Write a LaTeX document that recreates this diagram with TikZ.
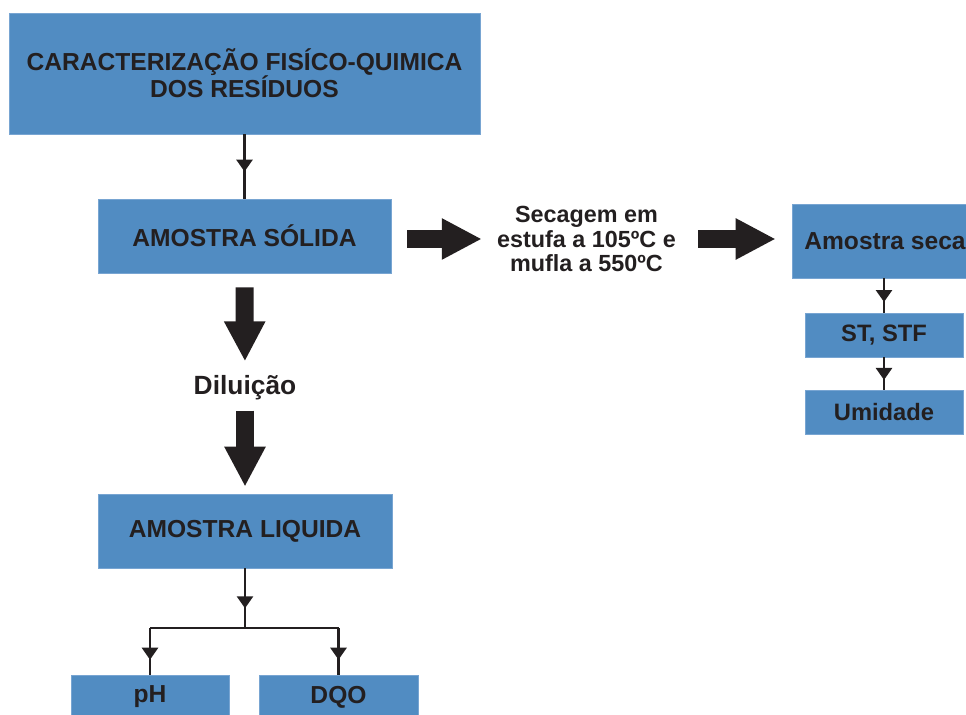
\documentclass[tikz,border=0pt]{standalone}
\usepackage{fontspec}
\setmainfont{Liberation Sans}
\usepackage{xcolor}
\usetikzlibrary{arrows.meta}
\usetikzlibrary{decorations.markings}
\definecolor{custom-blue}{RGB}{81, 140, 194}
\definecolor{custom-edge}{RGB}{120, 165, 210}
\definecolor{custom-dark}{RGB}{35, 31, 32}

\begin{document}
\begin{tikzpicture}[x=0.02cm, y=-0.02cm,
    box/.style={fill=custom-blue, draw=custom-edge, line width=0.4pt, inner sep=0pt,
        align=center, text=custom-dark, font=\bfseries\fontsize{14}{15.5}\selectfont},
    plain/.style={inner sep=0pt, align=center, text=custom-dark},
    thin/.style={draw=custom-dark, line width=1.5pt},
    midarrow/.style={thin, postaction={decorate}, decoration={markings,
        mark=at position #1 with {\arrow[custom-dark]{Triangle[width=0.32cm, length=0.24cm]}}}},
    bigarrow/.style={draw=custom-dark, line width=0.36cm,
        -{Triangle[width=0.77cm, length=0.8cm]}}]
    \useasboundingbox (0,0) rectangle (966,715);
    \node[box, minimum width=9.42cm, minimum height=2.42cm] (carac) at (244.5,73.5)
        {CARACTERIZAÇÃO FISÍCO-QUIMICA\\DOS RESÍDUOS};
    \node[box, minimum width=5.86cm, minimum height=1.48cm] (solida) at (244.5,236) {AMOSTRA SÓLIDA};
    \node[plain, font=\bfseries\fontsize{13.3}{14.2}\selectfont] (secagem) at (586.5,239)
        {Secagem em\\estufa a 105ºC e\\mufla a 550ºC};
    \node[box, minimum width=3.72cm, minimum height=1.48cm] (seca) at (885,241) {Amostra seca};
    \node[box, font=\bfseries\fontsize{13.5}{15}\selectfont, minimum width=3.16cm, minimum height=0.88cm] (stf) at (884,335) {ST, STF};
    \node[box, font=\bfseries\fontsize{13.5}{15}\selectfont, minimum width=3.16cm, minimum height=0.88cm] (umidade) at (884,412) {Umidade};
    \node[plain, font=\bfseries\fontsize{15}{16}\selectfont] (diluicao) at (245,388) {Diluição};
    \node[box, minimum width=5.88cm, minimum height=1.48cm] (liquida) at (245,531) {AMOSTRA LIQUIDA};
    \node[box, minimum width=3.16cm, minimum height=0.88cm] (ph) at (150,697) {pH};
    \node[box, minimum width=3.18cm, minimum height=0.88cm] (dqo) at (338.5,697) {DQO};
    \coordinate (split) at (245,628);
    \coordinate (splitph) at (150,628);
    \coordinate (splitdqo) at (338.5,628);

    \draw[midarrow=0.58] (carac.south) -- (solida.north);
    \draw[midarrow=0.69] (seca.south -| stf.north) -- (stf.north);
    \draw[midarrow=0.7] (stf.south) -- (umidade.north);
    \draw[midarrow=0.67] (liquida.south) -- (split);
    \draw[thin] (splitph) -- (splitdqo);
    \draw[midarrow=0.68] (splitph) -- (ph.north);
    \draw[midarrow=0.68] (splitdqo) -- (dqo.north);

    \draw[bigarrow, shorten <=0.32cm, shorten >=0.3cm] (solida.east |- secagem.west) -- (secagem.west);
    \draw[bigarrow, shorten <=0.44cm, shorten >=0.32cm] (secagem.east) -- (seca.west |- secagem.east);
    \draw[bigarrow, shorten <=0.28cm, shorten >=0.28cm] (solida.south) -- (diluicao.north);
    \draw[bigarrow, shorten <=0.2cm, shorten >=0.14cm] (diluicao.south) -- (liquida.north);
\end{tikzpicture}
\end{document}
